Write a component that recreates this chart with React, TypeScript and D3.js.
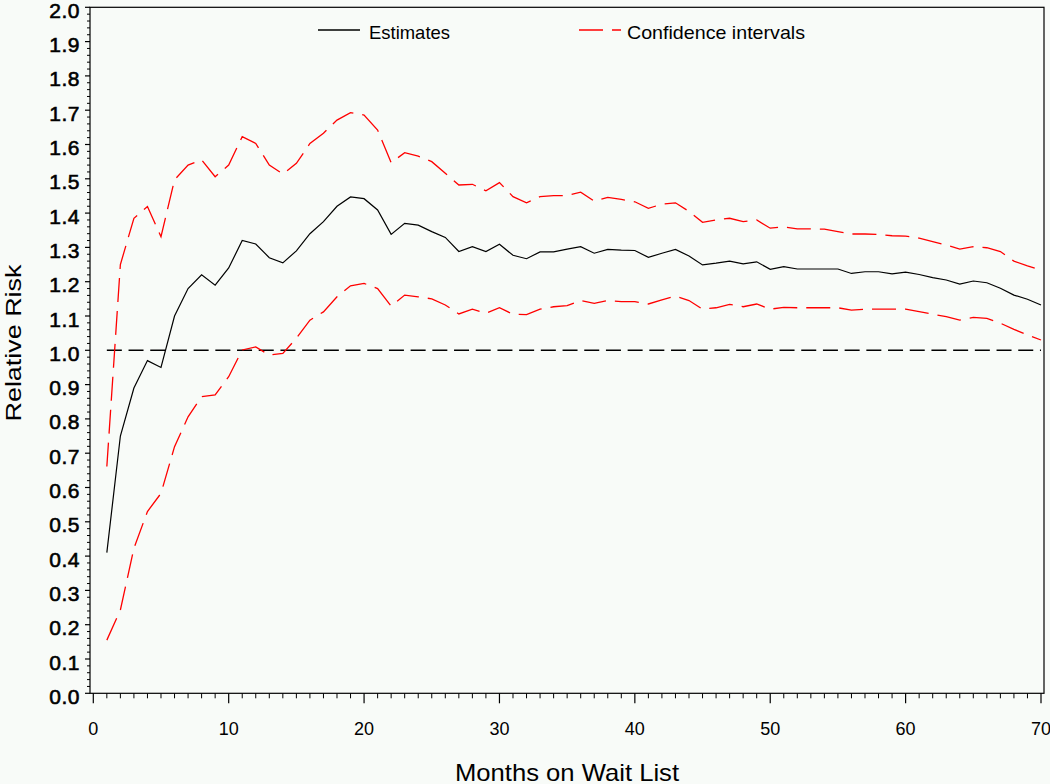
import * as d3 from 'd3'
import { useEffect } from 'react'

// months on the wait list
const months = [
    1, 2, 3, 4, 5, 6, 7, 8, 9, 10, 11, 12, 13, 14, 15, 16, 17, 18, 19, 20,
    21, 22, 23, 24, 25, 26, 27, 28, 29, 30, 31, 32, 33, 34, 35, 36, 37, 38, 39, 40,
    41, 42, 43, 44, 45, 46, 47, 48, 49, 50, 51, 52, 53, 54, 55, 56, 57, 58, 59, 60,
    61, 62, 63, 64, 65, 66, 67, 68, 69, 70,
]

const estimates = [
    0.41, 0.75, 0.89, 0.97, 0.95, 1.1, 1.18, 1.22, 1.19, 1.24,
    1.32, 1.31, 1.27, 1.255, 1.29, 1.34, 1.375, 1.42, 1.447, 1.442,
    1.409, 1.338, 1.37, 1.365, 1.346, 1.329, 1.288, 1.302, 1.288, 1.309,
    1.277, 1.267, 1.287, 1.287, 1.295, 1.302, 1.283, 1.294, 1.292, 1.291,
    1.271, 1.283, 1.294, 1.275, 1.249, 1.254, 1.26, 1.252, 1.258, 1.236,
    1.244, 1.237, 1.237, 1.237, 1.237, 1.224, 1.229, 1.229, 1.223, 1.228,
    1.221, 1.212, 1.205, 1.193, 1.202, 1.197, 1.181, 1.161, 1.149, 1.132,
]

const upperCI = [
    0.661, 1.25, 1.385, 1.419, 1.331, 1.497, 1.54, 1.555, 1.506, 1.54,
    1.623, 1.603, 1.54, 1.514, 1.545, 1.603, 1.633, 1.671, 1.693, 1.686,
    1.642, 1.547, 1.576, 1.566, 1.55, 1.516, 1.482, 1.484, 1.465, 1.489,
    1.448, 1.43, 1.448, 1.451, 1.451, 1.461, 1.435, 1.446, 1.44, 1.433,
    1.414, 1.426, 1.43, 1.405, 1.373, 1.38, 1.385, 1.375, 1.38, 1.356,
    1.36, 1.354, 1.354, 1.353, 1.346, 1.339, 1.339, 1.338, 1.334, 1.333,
    1.327, 1.317, 1.307, 1.295, 1.302, 1.299, 1.288, 1.26, 1.246, 1.234,
]

const lowerCI = [
    0.155, 0.243, 0.423, 0.53, 0.583, 0.719, 0.806, 0.865, 0.87, 0.923,
    1.001, 1.01, 0.986, 0.991, 1.035, 1.088, 1.112, 1.156, 1.188, 1.195,
    1.18, 1.129, 1.161, 1.156, 1.15, 1.132, 1.106, 1.12, 1.108, 1.124,
    1.105, 1.104, 1.12, 1.127, 1.13, 1.145, 1.137, 1.145, 1.142, 1.142,
    1.135, 1.147, 1.158, 1.145, 1.12, 1.124, 1.134, 1.127, 1.135, 1.12,
    1.125, 1.124, 1.124, 1.124, 1.124, 1.117, 1.12, 1.12, 1.12, 1.12,
    1.113, 1.105, 1.098, 1.088, 1.096, 1.093, 1.079, 1.061, 1.045, 1.03,
]

const referenceRisk = 1.0
const xTicks = [0, 10, 20, 30, 40, 50, 60, 70]
const legendLabels = ['Estimates', 'Confidence intervals']

const BG = '#f8fbf8'
const FONT = '"Liberation Sans", Arial, Helvetica, sans-serif'

function App() {
    useEffect(() => {
        document.body.style.margin = '0'
        document.body.style.background = BG
    }, [])

    const left = 90
    const right = 1044
    const top = 7.3
    const bottom = 693.3

    let x = d3.scaleLinear().domain([0, 70]).range([93.3, 1041])
    let y = d3.scaleLinear().domain([0, 2]).range([bottom, top])

    const line = d3
        .line<number>()
        .x((d, i) => x(months[i]))
        .y((d) => y(d))

    const yMajor = y.ticks(20)
    const yMinor = d3.range(0, 100).map((i) => i * 0.02).filter((v) => Math.round(v * 50) % 5 !== 0)
    const xMinor = d3.range(0, 71).filter((v) => v % 10 !== 0)
    const fmt = d3.format('.1f')

    return (
        <svg
            width={1050}
            height={784}
            style={{ display: 'block', background: BG, fontFamily: FONT }}
        >
            {/* frame */}
            <rect x={left} y={top} width={right - left} height={bottom - top} fill="none" stroke="#000" strokeWidth={1.2} />

            {/* y axis ticks */}
            {yMinor.map((v) => (
                <line key={'ym' + v} x1={left - 3} x2={left} y1={y(v)} y2={y(v)} stroke="#000" strokeWidth={1} />
            ))}
            {yMajor.map((v) => (
                <g key={'yM' + v}>
                    <line x1={left - 5} x2={left} y1={y(v)} y2={y(v)} stroke="#000" strokeWidth={1.2} />
                    <text
                        x={80}
                        y={y(v) + 10.5}
                        textAnchor="end"
                        fontSize={21}
                        fill="#000"
                        stroke="#000"
                        strokeWidth={0.6}
                        letterSpacing={0.5}
                    >
                        {fmt(v)}
                    </text>
                </g>
            ))}

            {/* x axis ticks */}
            {xMinor.map((v) => (
                <line key={'xm' + v} x1={x(v)} x2={x(v)} y1={bottom} y2={bottom + 5} stroke="#000" strokeWidth={1} />
            ))}
            {xTicks.map((v) => (
                <g key={'xM' + v}>
                    <line x1={x(v)} x2={x(v)} y1={bottom} y2={bottom + 10} stroke="#000" strokeWidth={1.2} />
                    <text x={x(v)} y={735} textAnchor="middle" fontSize={18} fill="#000">
                        {v}
                    </text>
                </g>
            ))}

            {/* axis titles */}
            <text
                transform="translate(21,343) rotate(-90)"
                textAnchor="middle"
                fontSize={22}
                textLength={157}
                lengthAdjust="spacingAndGlyphs"
                fill="#000"
            >
                Relative Risk
            </text>
            <text x={455} y={781} fontSize={24} textLength={224} lengthAdjust="spacingAndGlyphs" fill="#000">
                Months on Wait List
            </text>

            {/* reference line */}
            <line
                x1={x(months[0])}
                x2={x(months[months.length - 1])}
                y1={y(referenceRisk)}
                y2={y(referenceRisk)}
                stroke="#000"
                strokeWidth={1.5}
                strokeDasharray="15 6.7"
            />

            {/* confidence intervals */}
            <path d={line(upperCI) ?? ''} fill="none" stroke="#ff0000" strokeWidth={1.3} strokeDasharray="24 9" />
            <path d={line(lowerCI) ?? ''} fill="none" stroke="#ff0000" strokeWidth={1.3} strokeDasharray="24 9" />

            {/* estimates */}
            <path d={line(estimates) ?? ''} fill="none" stroke="#000" strokeWidth={1.2} />

            {/* legend */}
            <line x1={318} x2={360} y1={30} y2={30} stroke="#000" strokeWidth={1.3} />
            <text x={369} y={39} fontSize={19} textLength={81} lengthAdjust="spacingAndGlyphs" fill="#000">
                {legendLabels[0]}
            </text>
            <line x1={579} x2={621} y1={30} y2={30} stroke="#ff0000" strokeWidth={1.3} strokeDasharray="24 9" />
            <text x={627} y={39} fontSize={19} textLength={178} lengthAdjust="spacingAndGlyphs" fill="#000">
                {legendLabels[1]}
            </text>
        </svg>
    )
}

export default App
